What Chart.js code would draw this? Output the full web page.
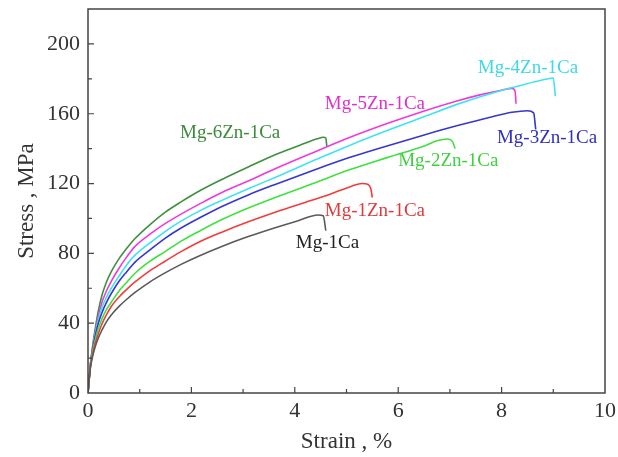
<!DOCTYPE html>
<html>
<head>
<meta charset="utf-8">
<script src="https://cdn.jsdelivr.net/npm/chart.js@4.4.1/dist/chart.umd.min.js"></script>
<style>
  html, body { margin: 0; padding: 0; background: #fff; }
  canvas { display: block; }
</style>
</head>
<body>
<canvas id="stressChart" width="618" height="457"></canvas>
<script>
// strain (%) / stress (MPa)
var mg1CaStrain = [0, 0.02, 0.05, 0.09, 0.135, 0.2, 0.27, 0.35, 0.45, 0.6, 0.75, 0.91, 1.2, 1.49, 1.8, 2.17, 2.6, 3.1, 3.62, 4.05, 4.45, 4.55, 4.6];
var mg1CaStress = [0, 7, 15, 21, 26, 31.5, 36, 40.5, 44.7, 49.6, 53.7, 57.6, 63.7, 68.8, 73.7, 78.8, 84.1, 89.6, 94.7, 98.6, 102, 101.5, 93];

var mg1ZnStrain = [0, 0.02, 0.05, 0.09, 0.135, 0.2, 0.27, 0.35, 0.45, 0.6, 0.75, 0.91, 1.2, 1.49, 1.8, 2.17, 2.6, 3.1, 3.62, 4.2, 4.6, 4.87, 5.1, 5.3, 5.42, 5.47, 5.5];
var mg1ZnStress = [0, 7, 16, 22.5, 28, 34, 39.5, 44.5, 49.6, 55, 59.4, 63.6, 70.1, 75.5, 81, 86.8, 92.3, 98.1, 103.6, 109.2, 113, 116, 118.5, 120, 119.5, 117, 112];

var mg2ZnStrain = [0, 0.02, 0.05, 0.09, 0.135, 0.2, 0.27, 0.35, 0.45, 0.6, 0.75, 0.91, 1.2, 1.49, 1.8, 2.17, 2.6, 3.1, 3.62, 4.35, 5.07, 5.8, 6.52, 6.75, 6.95, 7.05, 7.1];
var mg2ZnStress = [0, 7, 17, 24, 30, 37, 42.5, 47.5, 52, 58.5, 63.5, 68.6, 75.5, 81, 87, 93, 99.5, 106, 112, 120, 128, 135, 141.7, 144.5, 145.5, 144, 140];

var mg3ZnStrain = [0, 0.02, 0.05, 0.09, 0.135, 0.2, 0.27, 0.35, 0.45, 0.6, 0.75, 0.91, 1.2, 1.49, 1.8, 2.17, 2.6, 3.1, 3.62, 4.35, 5.07, 5.8, 6.52, 7.15, 7.78, 8.2, 8.5, 8.62, 8.66];
var mg3ZnStress = [0, 7, 17, 25, 32, 40, 46, 51.5, 57, 64, 69.5, 75, 82, 88.6, 94.5, 100.5, 107, 113.5, 119.5, 127.5, 135, 141.7, 148, 153.2, 158, 160.8, 161.7, 160.5, 151];

var mg4ZnStrain = [0, 0.02, 0.05, 0.09, 0.135, 0.2, 0.27, 0.35, 0.45, 0.6, 0.75, 0.91, 1.2, 1.49, 1.8, 2.17, 2.6, 3.1, 3.62, 4.35, 5.07, 5.8, 6.52, 7.15, 7.78, 8.4, 8.9, 9.0, 9.04];
var mg4ZnStress = [0, 7, 17, 25, 33, 42, 49, 54.5, 60, 67, 73.5, 79, 86, 92.5, 98.5, 104.5, 110.5, 117, 123.5, 133, 142, 150.5, 158.5, 165.5, 171.5, 176.5, 180, 180.5, 170];

var mg5ZnStrain = [0, 0.02, 0.05, 0.09, 0.135, 0.2, 0.27, 0.35, 0.45, 0.6, 0.75, 0.91, 1.2, 1.49, 1.8, 2.17, 2.6, 3.1, 3.62, 4.35, 5.07, 5.8, 6.52, 7.1, 7.58, 8.0, 8.2, 8.26, 8.28];
var mg5ZnStress = [0, 7, 17, 26, 34, 44, 52, 58, 64, 71.5, 78, 84, 91, 97, 102.5, 108.5, 115, 121.5, 128.5, 137.7, 146.5, 154.5, 161.7, 167, 170.8, 173.5, 174.5, 173, 165.7];

var mg6ZnStrain = [0, 0.02, 0.05, 0.09, 0.135, 0.2, 0.27, 0.35, 0.45, 0.6, 0.75, 0.91, 1.2, 1.49, 1.8, 2.17, 2.6, 3.1, 3.62, 4.1, 4.45, 4.55, 4.6, 4.62];
var mg6ZnStress = [0, 7, 17, 27, 36, 47, 56, 63, 69.5, 77, 83, 88.5, 96.5, 103.5, 109.5, 116, 122.5, 129.5, 136.5, 142, 145.8, 146.5, 146, 141];

var seriesNames = ['Mg-1Ca', 'Mg-1Zn-1Ca', 'Mg-2Zn-1Ca', 'Mg-3Zn-1Ca', 'Mg-4Zn-1Ca', 'Mg-5Zn-1Ca', 'Mg-6Zn-1Ca'];
var seriesColors = ['#5a5a5a', '#f23c3c', '#3fe03f', '#3636d0', '#3fe3f0', '#f03ad8', '#3f8f3f'];
var labelColors = ['#222222', '#e03a3a', '#3fd03f', '#2f2fc0', '#3fd8e8', '#e030c8', '#3a8a3a'];
var xTicks = [0, 2, 4, 6, 8, 10];
var yTicks = [0, 40, 80, 120, 160, 200];

// where each curve name sits (data coords, left edge / middle)
var labelSpots = [[4.02, 86], [4.58, 104.5], [6.0, 133], [7.91, 146], [7.54, 186], [4.58, 165.7], [1.78, 149]];

var strains = [mg1CaStrain, mg1ZnStrain, mg2ZnStrain, mg3ZnStrain, mg4ZnStrain, mg5ZnStrain, mg6ZnStrain];
var stresses = [mg1CaStress, mg1ZnStress, mg2ZnStress, mg3ZnStress, mg4ZnStress, mg5ZnStress, mg6ZnStress];

var datasets = seriesNames.map(function(name, i) {
  return {
    label: name,
    data: strains[i].map(function(x, j) { return { x: x, y: stresses[i][j] }; }),
    showLine: true,
    borderColor: seriesColors[i],
    borderWidth: 1.6,
    pointRadius: 0,
    cubicInterpolationMode: 'monotone',
    fill: false
  };
});

var serif = '"Liberation Serif", "DejaVu Serif", serif';

// frame, inward ticks and curve names
var decorPlugin = {
  id: 'decor',
  afterDraw: function(chart) {
    var ctx = chart.ctx;
    var a = chart.chartArea;
    var xs = chart.scales.x, ys = chart.scales.y;
    ctx.save();
    ctx.strokeStyle = '#444';
    ctx.lineWidth = 1.5;
    ctx.strokeRect(a.left, a.top, a.right - a.left, a.bottom - a.top);
    ctx.lineWidth = 1.2;
    ctx.beginPath();
    for (var v = 1; v < 10; v++) {
      var px = xs.getPixelForValue(v);
      var len = (v % 2 === 0) ? 6 : 4;
      ctx.moveTo(px, a.bottom);
      ctx.lineTo(px, a.bottom - len);
    }
    for (var s = 20; s <= 220; s += 20) {
      var py = ys.getPixelForValue(s);
      if (py <= a.top + 1) continue;
      var l2 = (s % 40 === 0) ? 6 : 4;
      ctx.moveTo(a.left, py);
      ctx.lineTo(a.left + l2, py);
    }
    ctx.stroke();

    ctx.font = '19px ' + serif;
    ctx.textAlign = 'left';
    ctx.textBaseline = 'middle';
    seriesNames.forEach(function(name, i) {
      ctx.fillStyle = labelColors[i];
      ctx.fillText(name, xs.getPixelForValue(labelSpots[i][0]), ys.getPixelForValue(labelSpots[i][1]));
    });
    ctx.restore();
  }
};

new Chart(document.getElementById('stressChart'), {
  type: 'scatter',
  data: { datasets: datasets },
  options: {
    responsive: false,
    animation: false,
    layout: { padding: { top: 9, right: 13, left: 0, bottom: 0 } },
    plugins: { legend: { display: false }, tooltip: { enabled: false } },
    scales: {
      x: {
        type: 'linear',
        min: 0,
        max: 10,
        afterBuildTicks: function(scale) { scale.ticks = xTicks.map(function(v) { return { value: v }; }); },
        afterFit: function(scale) { scale.height = 64; scale.paddingLeft = 0; scale.paddingRight = 0; },
        grid: { display: false, drawTicks: false },
        border: { display: false },
        ticks: { color: '#333', padding: 5, font: { family: serif, size: 22 } },
        title: { display: true, text: 'Strain , %', color: '#333', padding: { top: 0, bottom: 1 }, font: { family: serif, size: 23 } }
      },
      y: {
        type: 'linear',
        min: 0,
        max: 220,
        afterBuildTicks: function(scale) { scale.ticks = yTicks.map(function(v) { return { value: v }; }); },
        afterFit: function(scale) { scale.width = 88; scale.paddingTop = 0; scale.paddingBottom = 0; },
        grid: { display: false, drawTicks: false },
        border: { display: false },
        ticks: { color: '#333', padding: 8, font: { family: serif, size: 22 } },
        title: { display: true, text: 'Stress , MPa', color: '#333', padding: { top: 13, bottom: 0 }, font: { family: serif, size: 23 } }
      }
    }
  },
  plugins: [decorPlugin]
});
</script>
</body>
</html>
